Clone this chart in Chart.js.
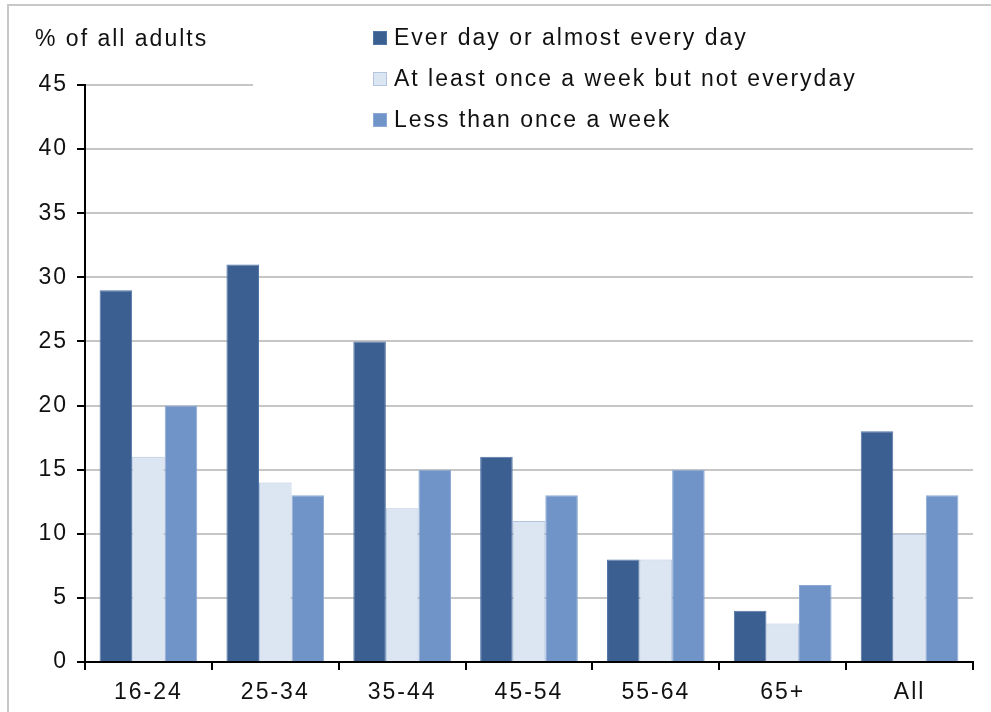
<!DOCTYPE html>
<html>
<head>
    <script src="https://cdn.jsdelivr.net/npm/chart.js"></script>
    <style>
        body { margin: 0; background: #fff; }
        #wrap { width: 991px; height: 712px; position: relative; }
    </style>
    <script>
        const categories = ['16-24', '25-34', '35-44', '45-54', '55-64', '65+', 'All'];
        const seriesNames = ['Ever day or almost every day', 'At least once a week but not everyday', 'Less than once a week'];
        const everyDay = [29, 31, 25, 16, 8, 4, 18];
        const weekly = [16, 14, 12, 11, 8, 3, 10];
        const lessWeekly = [20, 13, 15, 13, 15, 6, 13];
        const yTicks = [0, 5, 10, 15, 20, 25, 30, 35, 40, 45];
        const yTitle = '% of all adults';

        const fillColors = ['#3C5F92', '#DCE5F2', '#7094C8'];
        const edgeColors = ['#5275A8', '#B3C5DF', '#8DAAD4'];
        const FONT = '"Liberation Sans", Arial, sans-serif';
        const FONT_SIZE = 23;
        const SPACING = '2px';

        // extras drawn straight on the canvas: frame, axis title, legend box
        const extras = {
            id: 'extras',
            beforeLayout(chart) { chart.ctx.letterSpacing = SPACING; },
            beforeDraw(chart) {
                const ctx = chart.ctx;
                ctx.letterSpacing = SPACING;
                ctx.save();
                ctx.fillStyle = '#fff';
                ctx.fillRect(0, 0, chart.width, chart.height);
                ctx.strokeStyle = '#c8c8c8';
                ctx.lineWidth = 2;
                ctx.beginPath();
                ctx.moveTo(8, chart.height);
                ctx.lineTo(8, 5);
                ctx.lineTo(chart.width, 5);
                ctx.stroke();
                ctx.restore();
            },
            afterDraw(chart) {
                const ctx = chart.ctx;
                const area = chart.chartArea;
                ctx.save();
                ctx.letterSpacing = SPACING;
                ctx.font = FONT_SIZE + 'px ' + FONT;
                ctx.fillStyle = '#111';
                ctx.textBaseline = 'middle';
                ctx.textAlign = 'left';
                ctx.fillText(yTitle, 35, 40);

                // legend sits on a white box that hides the top gridline
                ctx.fillStyle = '#fff';
                ctx.fillRect(253, 12, area.right - 253 + 2, area.top - 12 + 3);
                chart.data.datasets.forEach((ds, i) => {
                    const cy = 38 + i * 41;
                    ctx.fillStyle = ds.backgroundColor;
                    ctx.fillRect(373, cy - 7, 14, 14);
                    ctx.strokeStyle = ds.borderColor;
                    ctx.lineWidth = 1;
                    ctx.strokeRect(373.5, cy - 6.5, 13, 13);
                    ctx.fillStyle = '#111';
                    ctx.fillText(ds.label, 394, cy + 1);
                });
                ctx.restore();
            }
        };

        window.onload = function() {
            const chart_data = {
                labels: categories,
                datasets: [everyDay, weekly, lessWeekly].map((vals, i) => ({
                    label: seriesNames[i],
                    data: vals,
                    backgroundColor: fillColors[i],
                    borderColor: edgeColors[i],
                    borderWidth: 1,
                    categoryPercentage: 0.77,
                    barPercentage: 1.0
                }))
            };

            const config = {
                type: 'bar',
                data: chart_data,
                options: {
                    responsive: true,
                    maintainAspectRatio: false,
                    animation: false,
                    layout: { padding: { top: 85, right: 18, left: 0, bottom: 0 } },
                    plugins: {
                        legend: { display: false },
                        tooltip: { enabled: false }
                    },
                    scales: {
                        x: {
                            afterFit: s => { s.height = 50; },
                            grid: {
                                display: true,
                                offset: true,
                                drawOnChartArea: false,
                                tickLength: 8,
                                tickColor: '#000',
                                lineWidth: 2
                            },
                            border: { color: '#000', width: 2 },
                            ticks: {
                                color: '#111',
                                padding: 9,
                                font: { family: FONT, size: FONT_SIZE }
                            }
                        },
                        y: {
                            min: 0,
                            max: 45,
                            afterFit: s => { s.width = 85; },
                            afterBuildTicks: s => { s.ticks = yTicks.map(v => ({ value: v })); },
                            grid: {
                                color: '#c6c6c6',
                                lineWidth: 2,
                                tickLength: 8,
                                tickColor: '#000'
                            },
                            border: { color: '#000', width: 2 },
                            ticks: {
                                color: '#111',
                                padding: 9,
                                font: { family: FONT, size: FONT_SIZE }
                            }
                        }
                    }
                },
                plugins: [extras]
            };

            new Chart(document.getElementById('usageChart'), config);
        }
    </script>
</head>
<body>
    <div id="wrap">
        <canvas id="usageChart"></canvas>
    </div>
</body>
</html>
